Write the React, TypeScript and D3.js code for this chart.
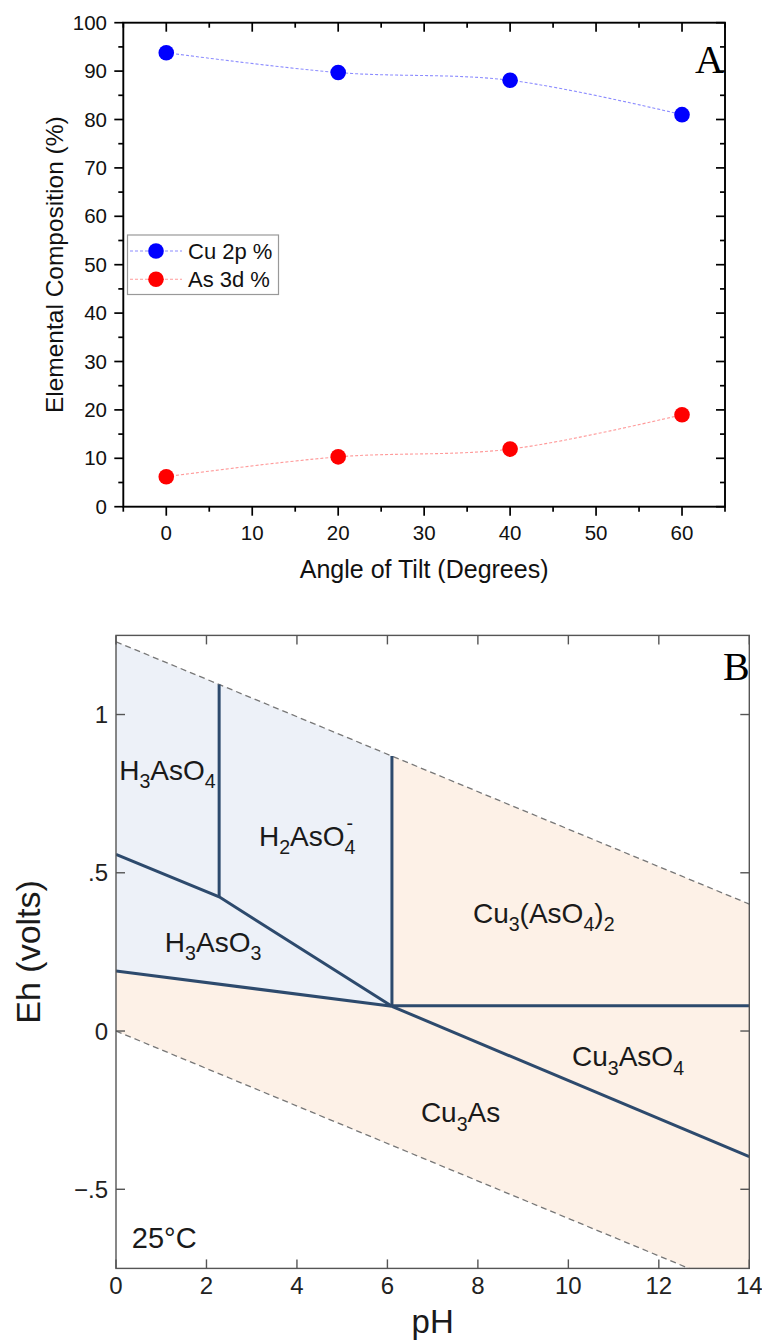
import React from "react";
import * as d3 from "d3";

// ---------- Panel A data ----------
const tiltAngles = [0, 20, 40, 60];
const cuValues = [93.8, 89.7, 88.1, 81.0];
const asValues = [6.2, 10.3, 11.9, 19.0];
const xTicksA = [0, 10, 20, 30, 40, 50, 60];
const yTicksA = [0, 10, 20, 30, 40, 50, 60, 70, 80, 90, 100];
const seriesNames = ["Cu 2p %", "As 3d %"];

// ---------- Panel B data (pH, Eh) ----------
const waterUpper: [number, number][] = [[0, 1.23], [14, 0.401]];
const waterLower: [number, number][] = [[0, 0], [14, -0.829]];
const blueRegion: [number, number][] = [[0, 1.23], [6.1, 0.869], [6.1, 0.078], [0, 0.19]];
const peachRegion: [number, number][] = [[0, 1.23], [14, 0.401], [14, -0.829], [0, 0]];
const boundaries: [number, number][][] = [
  [[2.28, 0.424], [2.28, 1.095]],
  [[0, 0.558], [2.28, 0.424], [6.1, 0.078]],
  [[0, 0.19], [6.1, 0.078]],
  [[6.1, 0.078], [6.1, 0.869]],
  [[6.1, 0.08], [14, 0.08]],
  [[6.1, 0.078], [14, -0.397]],
];
const xTicksB = [0, 2, 4, 6, 8, 10, 12, 14];
const yTicksB = [-0.5, 0, 0.5, 1];
const yTickLabelsB = ["\u2212.5", "0", ".5", "1"];
type Part = { t: string; sub?: boolean; sup?: boolean };
const speciesLabels: { pH: number; eh: number; parts: Part[] }[] = [
  { pH: 0.07, eh: 0.793, parts: [{ t: "H" }, { t: "3", sub: true }, { t: "AsO" }, { t: "4", sub: true }] },
  { pH: 3.16, eh: 0.585, parts: [{ t: "H" }, { t: "2", sub: true }, { t: "AsO" }, { t: "4", sub: true }, { t: "-", sup: true }] },
  { pH: 1.08, eh: 0.25, parts: [{ t: "H" }, { t: "3", sub: true }, { t: "AsO" }, { t: "3", sub: true }] },
  { pH: 7.89, eh: 0.341, parts: [{ t: "Cu" }, { t: "3", sub: true }, { t: "(AsO" }, { t: "4", sub: true }, { t: ")" }, { t: "2", sub: true }] },
  { pH: 10.08, eh: -0.111, parts: [{ t: "Cu" }, { t: "3", sub: true }, { t: "AsO" }, { t: "4", sub: true }] },
  { pH: 6.74, eh: -0.288, parts: [{ t: "Cu" }, { t: "3", sub: true }, { t: "As" }] },
];

const SANS = "Liberation Sans, Arial, sans-serif";
const SERIF = "Liberation Serif, Times New Roman, serif";

function Formula({ x, y, parts, size }: { x: number; y: number; parts: Part[]; size: number }) {
  const subSize = size * 0.7;
  const shift = size * 0.3;
  const els: React.ReactNode[] = [];
  let level = 0;
  parts.forEach((p, i) => {
    if (p.sup) {
      const back = subSize * 0.556;
      const dy = -shift - size * 0.55;
      els.push(
        <tspan key={i} dx={-back + 2} dy={dy} fontSize={subSize}>{p.t}</tspan>
      );
      level = dy + level;
      return;
    }
    const target = p.sub ? shift : 0;
    const dy = target - level;
    level = target;
    els.push(
      <tspan key={i} dy={dy} fontSize={p.sub ? subSize : size}>{p.t}</tspan>
    );
  });
  return (
    <text x={x} y={y} fontFamily={SANS} fontSize={size} fill="#1a1a1a">{els}</text>
  );
}

export default function App() {
  const xA = d3.scaleLinear().domain([-5, 65]).range([123.3, 725]);
  const yA = d3.scaleLinear().domain([0, 100]).range([506.7, 22.7]);
  const lineA = d3
    .line<number>()
    .x((_, i) => xA(tiltAngles[i]))
    .y((d) => yA(d))
    .curve(d3.curveCatmullRom.alpha(0.5));
  const xMinorA = d3.range(-5, 66, 5).filter((v) => v % 10 !== 0);
  const yMinorA = d3.range(5, 100, 10);

  const xB = d3.scaleLinear().domain([0, 14]).range([116, 749.3]);
  const yB = d3.scaleLinear().domain([-0.75, 1.25]).range([1268.4, 635.4]);
  const lineB = d3.line<[number, number]>().x((d) => xB(d[0])).y((d) => yB(d[1]));

  const [x0, x1] = xA.range();
  const [y0, y1] = yA.range();
  const [bx0, bx1] = xB.range();
  const [by0, by1] = yB.range();

  return (
    <svg width={762} height={1342} style={{ position: "absolute", left: 0, top: 0, background: "#fff" }}>
      <rect width={762} height={1342} fill="#fff" />
      {/* ================= Panel A ================= */}
      <g>
        <path d={lineA(cuValues) || ""} fill="none" stroke="#8c8cff" strokeWidth={1.1} strokeDasharray="3,2" />
        <path d={lineA(asValues) || ""} fill="none" stroke="#ff9a9a" strokeWidth={1.1} strokeDasharray="3,2" />
        {cuValues.map((v, i) => (
          <circle key={"cu" + i} cx={xA(tiltAngles[i])} cy={yA(v)} r={7.8} fill="#0000ff" />
        ))}
        {asValues.map((v, i) => (
          <circle key={"as" + i} cx={xA(tiltAngles[i])} cy={yA(v)} r={7.8} fill="#ff0000" />
        ))}
        <rect x={x0} y={y1} width={x1 - x0} height={y0 - y1} fill="none" stroke="#000" strokeWidth={1.9} />
        {xTicksA.map((t) => (
          <g key={"xa" + t}>
            <line x1={xA(t)} x2={xA(t)} y1={y0} y2={y0 + 9} stroke="#000" strokeWidth={1.7} />
            <line x1={xA(t)} x2={xA(t)} y1={y1} y2={y1 + 9} stroke="#000" strokeWidth={1.7} />
            <text x={xA(t)} y={540} textAnchor="middle" fontFamily={SANS} fontSize={20.5} fill="#111">{t}</text>
          </g>
        ))}
        {xMinorA.map((t) => (
          <g key={"xam" + t}>
            <line x1={xA(t)} x2={xA(t)} y1={y0} y2={y0 + 5} stroke="#000" strokeWidth={1.7} />
            <line x1={xA(t)} x2={xA(t)} y1={y1} y2={y1 + 5} stroke="#000" strokeWidth={1.7} />
          </g>
        ))}
        {yTicksA.map((t) => (
          <g key={"ya" + t}>
            <line x1={x0} x2={x0 - 9} y1={yA(t)} y2={yA(t)} stroke="#000" strokeWidth={1.7} />
            <line x1={x1} x2={x1 - 9} y1={yA(t)} y2={yA(t)} stroke="#000" strokeWidth={1.7} />
            <text x={107} y={yA(t) + 7} textAnchor="end" fontFamily={SANS} fontSize={20.5} fill="#111">{t}</text>
          </g>
        ))}
        {yMinorA.map((t) => (
          <g key={"yam" + t}>
            <line x1={x0} x2={x0 - 5} y1={yA(t)} y2={yA(t)} stroke="#000" strokeWidth={1.7} />
            <line x1={x1} x2={x1 - 5} y1={yA(t)} y2={yA(t)} stroke="#000" strokeWidth={1.7} />
          </g>
        ))}
        <text x={(x0 + x1) / 2} y={578} textAnchor="middle" fontFamily={SANS} fontSize={25} fill="#111">Angle of Tilt (Degrees)</text>
        <text transform={`translate(63,${(y0 + y1) / 2}) rotate(-90)`} textAnchor="middle" fontFamily={SANS} fontSize={24.5} fill="#111">Elemental Composition (%)</text>
        <rect x={127.5} y={235} width={151} height={59.5} fill="#fff" stroke="#999" strokeWidth={1.2} />
        {seriesNames.map((name, i) => {
          const ly = 251 + i * 28.3;
          const col = i === 0 ? "#0000ff" : "#ff0000";
          const lc = i === 0 ? "#8c8cff" : "#ff9a9a";
          return (
            <g key={name}>
              <line x1={130} x2={182} y1={ly} y2={ly} stroke={lc} strokeWidth={1.1} strokeDasharray="3,2" />
              <circle cx={156} cy={ly} r={7.8} fill={col} />
              <text x={188} y={ly + 8} fontFamily={SANS} fontSize={22} fill="#111">{name}</text>
            </g>
          );
        })}
        <text x={695} y={73} fontFamily={SERIF} fontSize={40} fill="#000">A</text>
      </g>

      {/* ================= Panel B ================= */}
      <defs>
        <clipPath id="clipB">
          <rect x={bx0} y={by1} width={bx1 - bx0} height={by0 - by1} />
        </clipPath>
      </defs>
      <g clipPath="url(#clipB)">
        <path d={(lineB(peachRegion) || "") + "Z"} fill="#fdf1e7" stroke="none" />
        <path d={(lineB(blueRegion) || "") + "Z"} fill="#edf1f8" stroke="none" />
        <path d={lineB(waterUpper) || ""} fill="none" stroke="#777" strokeWidth={1.3} strokeDasharray="6,4" />
        <path d={lineB(waterLower) || ""} fill="none" stroke="#777" strokeWidth={1.3} strokeDasharray="6,4" />
        {boundaries.map((b, i) => (
          <path key={"bd" + i} d={lineB(b) || ""} fill="none" stroke="#2d4a6d" strokeWidth={3} />
        ))}
      </g>
      <rect x={bx0} y={by1} width={bx1 - bx0} height={by0 - by1} fill="none" stroke="#555" strokeWidth={1.4} />
      {xTicksB.map((t) => (
        <g key={"xb" + t}>
          <line x1={xB(t)} x2={xB(t)} y1={by0} y2={by0 - 9} stroke="#555" strokeWidth={1.4} />
          <line x1={xB(t)} x2={xB(t)} y1={by1} y2={by1 + 9} stroke="#555" strokeWidth={1.4} />
          <text x={xB(t)} y={1294} textAnchor="middle" fontFamily={SANS} fontSize={24} fill="#222">{t}</text>
        </g>
      ))}
      {yTicksB.map((t, i) => (
        <g key={"yb" + t}>
          <line x1={bx0} x2={bx0 + 9} y1={yB(t)} y2={yB(t)} stroke="#555" strokeWidth={1.4} />
          <line x1={bx1} x2={bx1 - 9} y1={yB(t)} y2={yB(t)} stroke="#555" strokeWidth={1.4} />
          <text x={108} y={yB(t) + 8.5} textAnchor="end" fontFamily={SANS} fontSize={24} fill="#222">{yTickLabelsB[i]}</text>
        </g>
      ))}
      {speciesLabels.map((l, i) => (
        <Formula key={"sp" + i} x={xB(l.pH)} y={yB(l.eh)} parts={l.parts} size={28} />
      ))}
      <text x={xB(0.35)} y={yB(-0.686)} fontFamily={SANS} fontSize={29} fill="#1a1a1a">25°C</text>
      <text x={(bx0 + bx1) / 2} y={1333} textAnchor="middle" fontFamily={SANS} fontSize={33} fill="#1a1a1a">pH</text>
      <text transform={`translate(40,${(by0 + by1) / 2}) rotate(-90)`} textAnchor="middle" fontFamily={SANS} fontSize={34} fill="#1a1a1a">Eh (volts)</text>
      <text x={723} y={680} fontFamily={SERIF} fontSize={40} fill="#000">B</text>
    </svg>
  );
}
